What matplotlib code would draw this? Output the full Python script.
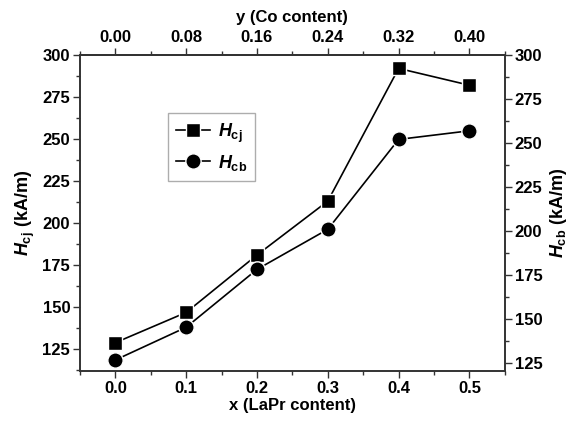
import matplotlib as mpl
mpl.use('Agg')
import matplotlib.pyplot as plt
from matplotlib.ticker import MultipleLocator, FormatStrFormatter

plt.rcParams['font.family'] = ['Liberation Sans', 'DejaVu Sans']
plt.rcParams['font.weight'] = 'bold'
plt.rcParams['axes.labelweight'] = 'bold'
plt.rcParams['mathtext.fontset'] = 'custom'
plt.rcParams['mathtext.rm'] = 'Liberation Sans:bold'
plt.rcParams['mathtext.it'] = 'Liberation Sans:bold:italic'
plt.rcParams['mathtext.bf'] = 'Liberation Sans:bold'

# data
x_lapr = [0.0, 0.1, 0.2, 0.3, 0.4, 0.5]
h_cj = [128.8, 146.8, 181.0, 213.1, 292.1, 282.1]
h_cb = [126.7, 145.3, 178.2, 201.0, 252.1, 257.0]
co_ticks = [0.00, 0.08, 0.16, 0.24, 0.32, 0.40]
y_ticks = [125, 150, 175, 200, 225, 250, 275, 300]

fig = plt.figure(figsize=(5.75, 4.21), dpi=100)
ax = fig.add_axes([0.139, 0.119, 0.739, 0.750])
ax2 = ax.twinx()

fs = 12
l1, = ax.plot(x_lapr, h_cj, color='black', lw=1.2, marker='s', ms=9.5,
              mfc='black', mec='white', mew=1.0, label=r'$H_{\rm cj}$')
l2, = ax2.plot(x_lapr, h_cb, color='black', lw=1.2, marker='o', ms=11,
               mfc='black', mec='white', mew=1.0, label=r'$H_{\rm cb}$')

ax.set_xlim(-0.05, 0.55)
ax.set_ylim(112, 300)
ax2.set_ylim(120.5, 300)

ax.xaxis.set_major_locator(MultipleLocator(0.1))
ax.xaxis.set_minor_locator(MultipleLocator(0.05))
ax.xaxis.set_major_formatter(FormatStrFormatter('%.1f'))
for a in (ax, ax2):
    a.set_yticks(y_ticks)
    a.yaxis.set_minor_locator(MultipleLocator(12.5))

top = ax.secondary_xaxis('top', functions=(lambda v: v * 0.8, lambda v: v / 0.8))
top.set_xticks(co_ticks)
top.xaxis.set_minor_locator(MultipleLocator(0.04))
top.xaxis.set_major_formatter(FormatStrFormatter('%.2f'))
top.set_xlabel('y (Co content)', fontsize=fs, fontweight='bold', labelpad=6)

for a in (ax, ax2, top):
    a.tick_params(which='major', direction='out', length=5, width=1.0,
                  labelsize=fs, pad=2, color='#333333')
    a.tick_params(which='minor', direction='out', length=3, width=1.0, color='#333333')
ax.tick_params(axis='y', which='both', right=False)
for a in (ax, ax2):
    for s in a.spines.values():
        s.set_linewidth(1.2)
        s.set_color('#333333')
top.spines['top'].set_linewidth(1.2)
top.spines['top'].set_color('#333333')

ax.set_xlabel('x (LaPr content)', fontsize=fs, fontweight='bold', labelpad=2)
ax.set_ylabel(r'$H_{\rm cj}$ (kA/m)', fontsize=fs + 1, fontweight='bold', labelpad=4)
ax2.set_ylabel(r'$H_{\rm cb}$ (kA/m)', fontsize=fs + 1, fontweight='bold',
               rotation=90, labelpad=4)

leg = ax2.legend(handles=[l1, l2], loc='upper left', bbox_to_anchor=(0.207, 0.816),
                 borderaxespad=0, fontsize=fs + 1, frameon=True, fancybox=False,
                 handlelength=1.9, handletextpad=0.4, borderpad=0.45, labelspacing=0.45)
leg.get_frame().set_edgecolor('#999999')
leg.get_frame().set_linewidth(1.0)

fig.savefig('out.png', dpi=100)
